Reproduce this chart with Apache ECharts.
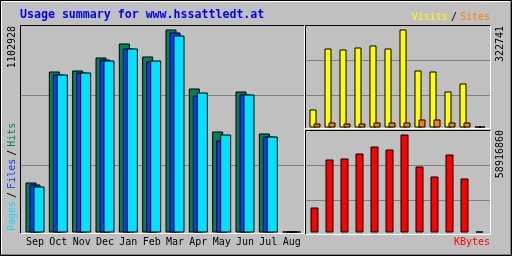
<!DOCTYPE html>
<html><head><meta charset="utf-8">
<script src="https://cdn.jsdelivr.net/npm/echarts@6/dist/echarts.min.js"></script>
<style>html,body{margin:0;padding:0;background:#c0c0c0;}#c{width:512px;height:256px;}</style>
</head><body><div id="c"></div>
<script>
// ---- data ----
const months = ['Sep','Oct','Nov','Dec','Jan','Feb','Mar','Apr','May','Jun','Jul','Aug'];
const hits   = [271700, 874700, 880200, 950800, 1026900, 956300, 1102928, 782400, 548800, 766100, 537900, 0];
const files  = [260800, 858400, 869300, 939900, 999700, 929100, 1086600, 744300, 499800, 749800, 521600, 0];
const pages  = [249900, 858400, 869300, 934500, 999700, 934500, 1070300, 760600, 532400, 749800, 521600, 0];
const visits = [59280, 260170, 256880, 263460, 270050, 260170, 322741, 187720, 184420, 118560, 144900, 0];
const sites  = [13170, 16470, 13170, 13170, 16470, 16470, 16470, 26350, 26350, 16470, 16470, 0];
const kbytes = [15029800, 43887000, 44488200, 47494200, 51702500, 49898900, 58916860, 39678700, 33666800, 46893000, 32464400, 0];
const titleText = 'Usage summary for www.hssattledt.at';
const legendMain = ['Pages', 'Files', 'Hits'];
const legendTop = ['Visits', 'Sites'];
const legendBottom = 'KBytes';

const maxHits = Math.max(...hits);
const maxVisits = Math.max(...visits);
const maxKB = Math.max(...kbytes);

const C = {hits:'#00805c', files:'#0040ff', pages:'#00e0ff', visits:'#ffff00', sites:'#ff8000', kb:'#ff0000',
  bg:'#c0c0c0', grid:'#808080', shadow:'#808080'};
const MONO = '"DejaVu Sans Mono", "Liberation Mono", monospace';

const chart = echarts.init(document.getElementById('c'), null, {renderer:'canvas'});

function lineGrid(i){
  return {
    x: {gridIndex:i, type:'value', show:false},
    y: {gridIndex:i, type:'value', min:0, max:3, interval:1,
        axisLine:{show:false}, axisTick:{show:false}, axisLabel:{show:false},
        splitLine:{show:true, showMinLine:false, showMaxLine:false, lineStyle:{color:C.grid, width:1}}}
  };
}
const g0 = lineGrid(0), g1 = lineGrid(1), g2 = lineGrid(2);

function catAx(i, showLabel){
  return {gridIndex:i, type:'category', data:months, boundaryGap:true,
    axisLine:{show:false}, axisTick:{show:false}, splitLine:{show:false},
    axisLabel:{show:showLabel, interval:0, margin:5, color:'#000', fontFamily:'DejaVu Sans Mono', fontSize:10}};
}
function valAx(i, mx){
  return {gridIndex:i, type:'value', min:0, max:mx, show:false};
}
const barStyle = c => ({color:c, borderColor:'#000', borderWidth:1});

function frame(x1,y1,x2,y2){
  return [
    {type:'polyline', silent:true, shape:{points:[[x1+0.5,y2+0.5],[x1+0.5,y1+0.5],[x2+0.5,y1+0.5]]}, style:{stroke:'#000', lineWidth:1, fill:null}},
    {type:'polyline', silent:true, shape:{points:[[x2+0.5,y1+0.5],[x2+0.5,y2+0.5],[x1+0.5,y2+0.5]]}, style:{stroke:'#fff', lineWidth:1, fill:null}}
  ];
}
const shadowStyle = {textShadowColor:C.shadow, textShadowOffsetX:1, textShadowOffsetY:1, textShadowBlur:0};
const smallFont = '10px ' + MONO;

const graphics = [
  // outer bevel
  {type:'rect', silent:true, shape:{x:0.5,y:0.5,width:511,height:255}, style:{stroke:'#000', fill:null, lineWidth:1}},
  {type:'polyline', silent:true, shape:{points:[[1.5,253.5],[1.5,1.5],[509.5,1.5]]}, style:{stroke:'#fff', lineWidth:1, fill:null}},
  {type:'polyline', silent:true, shape:{points:[[510.5,1.5],[510.5,254.5],[1.5,254.5]]}, style:{stroke:'#808080', lineWidth:1, fill:null}},
  ...frame(20,25,304,233),
  ...frame(305,25,490,128),
  ...frame(305,130,490,234),
  // title
  {type:'text', silent:true, x:20, y:15, style:{text:titleText, font:'bold 11.6px ' + MONO, fill:'#0000ff', align:'left', verticalAlign:'middle'}},
  // Visits / Sites
  {type:'text', silent:true, x:490, y:17, style:Object.assign({
    text:'{v|' + legendTop[0] + '}{s|/}{t|' + legendTop[1] + '}', align:'right', verticalAlign:'middle', font:smallFont,
    rich:{
      v:Object.assign({fill:C.visits, font:smallFont}, shadowStyle),
      s:Object.assign({fill:'#000', font:smallFont, padding:[0,3,0,3]}, shadowStyle),
      t:Object.assign({fill:C.sites, font:smallFont}, shadowStyle)
    }}, shadowStyle)},
  // KBytes
  {type:'text', silent:true, x:490, y:242, style:Object.assign({text:legendBottom, align:'right', verticalAlign:'middle', font:smallFont, fill:C.kb}, shadowStyle)},
  // Pages / Files / Hits (rotated)
  {type:'text', silent:true, x:12, y:231, rotation:Math.PI/2, style:Object.assign({
    text:'{p|' + legendMain[0] + '}{s|/}{f|' + legendMain[1] + '}{s|/}{h|' + legendMain[2] + '}', align:'left', verticalAlign:'middle', font:smallFont,
    rich:{
      p:Object.assign({fill:C.pages, font:smallFont}, shadowStyle),
      s:Object.assign({fill:'#000', font:smallFont, padding:[0,3,0,3]}, shadowStyle),
      f:Object.assign({fill:C.files, font:smallFont}, shadowStyle),
      h:Object.assign({fill:C.hits, font:smallFont}, shadowStyle)
    }}, shadowStyle)},
  // max labels
  {type:'text', silent:true, x:12.5, y:26, rotation:Math.PI/2, style:{text:String(maxHits), align:'right', verticalAlign:'middle', font:smallFont, fill:'#000'}},
  {type:'text', silent:true, x:500, y:26, rotation:Math.PI/2, style:{text:String(maxVisits), align:'right', verticalAlign:'middle', font:smallFont, fill:'#000'}},
  {type:'text', silent:true, x:500, y:130, rotation:Math.PI/2, style:{text:String(maxKB), align:'right', verticalAlign:'middle', font:smallFont, fill:'#000'}}
];

const option = {
  animation:false,
  backgroundColor:C.bg,
  grid:[
    {left:21, top:25.5, width:283, height:210},
    {left:306, top:25.5, width:184, height:105},
    {left:306, top:130.5, width:184, height:105},
    {left:23.333, top:29.5, width:280, height:203},
    {left:307.5, top:29.5, width:180, height:98},
    {left:307, top:134.5, width:180, height:98}
  ],
  xAxis:[g0.x, g1.x, g2.x, catAx(3,true), catAx(4,false), catAx(5,false)],
  yAxis:[g0.y, g1.y, g2.y, valAx(3,maxHits), valAx(4,maxVisits), valAx(5,maxKB)],
  series:[
    {name:'Hits', type:'bar', xAxisIndex:3, yAxisIndex:3, data:hits, barWidth:11, barGap:'-63.64%', barMinHeight:1, itemStyle:barStyle(C.hits), silent:true},
    {name:'Files', type:'bar', xAxisIndex:3, yAxisIndex:3, data:files, barWidth:11, barGap:'-63.64%', barMinHeight:1, itemStyle:barStyle(C.files), silent:true},
    {name:'Pages', type:'bar', xAxisIndex:3, yAxisIndex:3, data:pages, barWidth:11, barGap:'-63.64%', barMinHeight:1, itemStyle:barStyle(C.pages), silent:true},
    {name:'Visits', type:'bar', xAxisIndex:4, yAxisIndex:4, data:visits, barWidth:7, barGap:'-42.857%', barMinHeight:1, itemStyle:barStyle(C.visits), silent:true},
    {name:'Sites', type:'bar', xAxisIndex:4, yAxisIndex:4, data:sites, barWidth:7, barGap:'-42.857%', barMinHeight:1, itemStyle:barStyle(C.sites), silent:true},
    {name:'KBytes', type:'bar', xAxisIndex:5, yAxisIndex:5, data:kbytes, barWidth:8, barMinHeight:1, itemStyle:barStyle(C.kb), silent:true}
  ],
  graphic:graphics
};
chart.setOption(option);
</script></body></html>
